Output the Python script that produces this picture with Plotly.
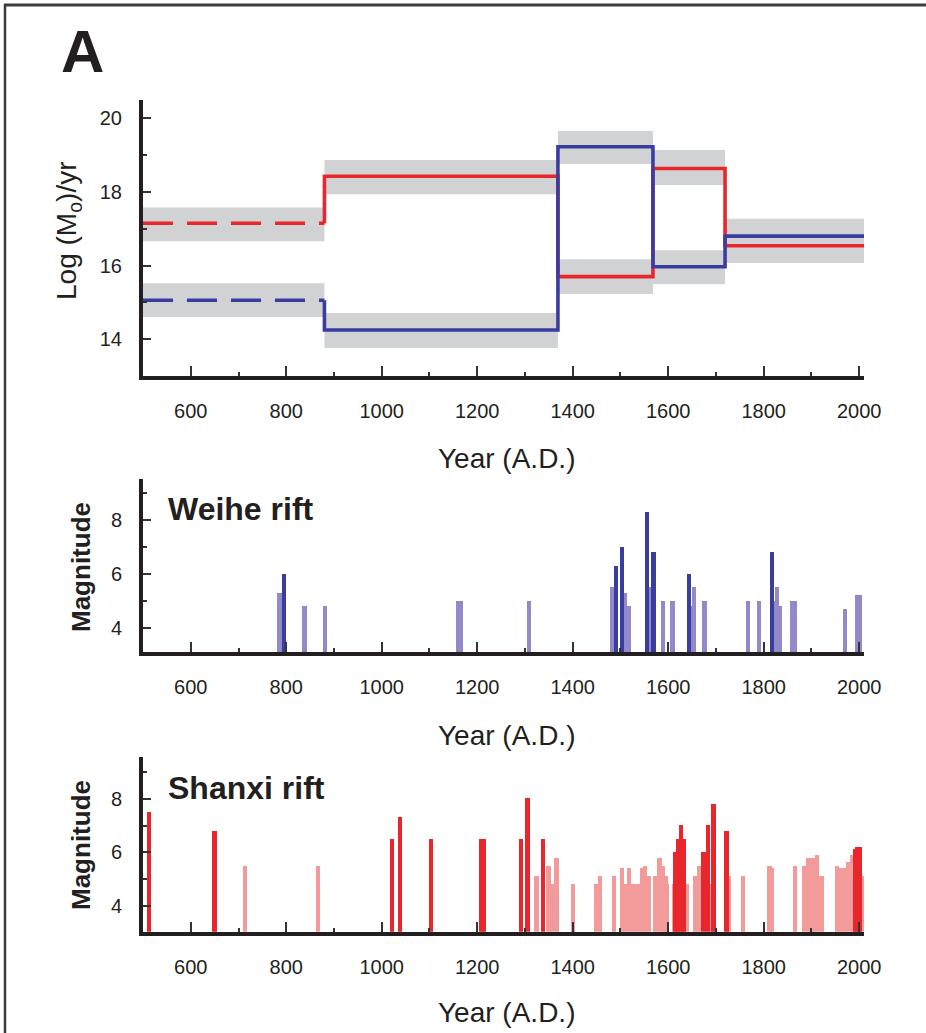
import plotly.graph_objects as go

W, H = 926, 1033

# ---------------- Panel A top: moment release rate (log Mo / yr) ----------------
seg_edges = [500, 880, 1369, 1568, 1719, 2010]
shanxi_rate = [17.15, 18.43, 15.70, 18.64, 16.54]
weihe_rate = [15.06, 14.25, 19.23, 15.97, 16.80]
shanxi_lo = [16.66, 17.94, 15.23, 18.19, 16.07]
shanxi_hi = [17.58, 18.87, 16.17, 19.14, 17.01]
weihe_lo = [14.60, 13.76, 18.76, 15.49, 16.33]
weihe_hi = [15.52, 14.71, 19.66, 16.42, 17.27]

# ---------------- Weihe rift earthquakes ----------------
weihe_major_year = [795, 1490, 1503, 1556, 1569, 1643, 1818]
weihe_major_mag = [6.0, 6.3, 7.0, 8.3, 6.8, 6.0, 6.8]
weihe_minor_year = [786, 838, 881, 1159, 1165, 1308, 1483, 1510, 1517, 1562,
                    1589, 1609, 1647, 1654, 1676, 1767, 1790, 1823, 1828, 1834,
                    1860, 1866, 1970, 1995, 2001]
weihe_minor_mag = [5.3, 4.8, 4.8, 5.0, 5.0, 5.0, 5.5, 5.3, 4.8, 5.5,
                   5.0, 5.0, 4.8, 5.5, 5.0, 5.0, 5.0, 5.0, 5.5, 4.8,
                   5.0, 5.0, 4.7, 5.2, 5.2]

# ---------------- Shanxi rift earthquakes ----------------
shanxi_major_year = [512, 650, 1022, 1038, 1103, 1208, 1214, 1292, 1305, 1338,
                     1615, 1620, 1626, 1632, 1674, 1683, 1695, 1722,
                     1991, 1996, 2001]
shanxi_major_mag = [7.5, 6.8, 6.5, 7.3, 6.5, 6.5, 6.5, 6.5, 8.0, 6.5,
                    6.0, 6.5, 7.0, 6.5, 6.0, 7.0, 7.8, 6.8,
                    6.1, 6.2, 6.2]
shanxi_minor_year = [713, 866, 1324, 1349, 1356, 1366, 1400, 1448, 1457, 1486,
                     1503, 1510, 1518, 1527, 1536, 1545, 1551, 1559, 1572, 1582,
                     1589, 1594, 1598, 1612, 1638, 1656, 1665, 1690, 1727, 1756,
                     1812, 1818, 1866, 1884, 1892, 1900, 1906, 1912, 1921, 1954,
                     1961, 1968, 1976, 1986, 2005]
shanxi_minor_mag = [5.5, 5.5, 5.1, 5.5, 4.8, 5.8, 4.8, 4.8, 5.1, 5.1,
                    5.4, 4.8, 5.4, 4.8, 4.8, 5.4, 5.5, 5.1, 5.1, 5.8,
                    5.5, 5.1, 4.8, 4.8, 4.8, 5.1, 5.5, 4.8, 5.1, 5.1,
                    5.5, 5.4, 5.5, 5.5, 5.8, 5.8, 5.8, 5.9, 5.1, 5.5,
                    5.4, 5.4, 5.65, 5.9, 5.1]

x_ticks = [600, 800, 1000, 1200, 1400, 1600, 1800, 2000]

# ---------------- styles ----------------
RED = "#E8262B"
BLUE = "#3A3DA0"
LIGHT_RED = "#F39B9B"
LIGHT_BLUE = "#9189C8"
GRAY = "#D1D2D4"
INK = "#231F20"
FONT = "Liberation Sans, Arial, Helvetica, sans-serif"
BAR_W = 9


def px_x(p):
    return p / W


def px_y(p):
    return 1 - p / H


fig = go.Figure()

# uncertainty bands
for lo_arr, hi_arr in ((shanxi_lo, shanxi_hi), (weihe_lo, weihe_hi)):
    for i in range(len(lo_arr)):
        x0, x1 = seg_edges[i], seg_edges[i + 1]
        fig.add_trace(go.Scatter(
            x=[x0, x1, x1, x0, x0], y=[lo_arr[i], lo_arr[i], hi_arr[i], hi_arr[i], lo_arr[i]],
            mode="lines", fill="toself", fillcolor=GRAY, line=dict(width=0, color=GRAY),
            hoverinfo="skip", showlegend=False, xaxis="x", yaxis="y"))

# rate lines: dashed first segment, then solid steps
for rate, col in ((shanxi_rate, RED), (weihe_rate, BLUE)):
    fig.add_trace(go.Scatter(
        x=seg_edges[0:2], y=[rate[0], rate[0]], mode="lines",
        line=dict(color=col, width=3.6, dash="30px,14px"),
        showlegend=False, xaxis="x", yaxis="y"))
    fig.add_trace(go.Scatter(
        x=seg_edges[1:], y=rate, mode="lines",
        line=dict(color=col, width=3.6, shape="vh"),
        showlegend=False, xaxis="x", yaxis="y"))

# Weihe bars
fig.add_trace(go.Bar(x=weihe_minor_year, y=weihe_minor_mag, width=BAR_W,
                     marker=dict(color=LIGHT_BLUE, line=dict(width=0)),
                     showlegend=False, xaxis="x2", yaxis="y2"))
fig.add_trace(go.Bar(x=weihe_major_year, y=weihe_major_mag, width=BAR_W,
                     marker=dict(color=BLUE, line=dict(width=0)),
                     showlegend=False, xaxis="x2", yaxis="y2"))
# Shanxi bars
fig.add_trace(go.Bar(x=shanxi_minor_year, y=shanxi_minor_mag, width=BAR_W,
                     marker=dict(color=LIGHT_RED, line=dict(width=0)),
                     showlegend=False, xaxis="x3", yaxis="y3"))
fig.add_trace(go.Bar(x=shanxi_major_year, y=shanxi_major_mag, width=BAR_W,
                     marker=dict(color=RED, line=dict(width=0)),
                     showlegend=False, xaxis="x3", yaxis="y3"))

xdom = [px_x(143), px_x(864)]


def xaxis(anchor):
    return dict(
        domain=xdom, anchor=anchor, range=[500, 2010], automargin=False,
        showline=True, linewidth=4, linecolor=INK, mirror=False,
        showgrid=False, zeroline=False,
        ticks="inside", ticklen=10, tickwidth=1.5, tickcolor="#333",
        tickvals=x_ticks, ticktext=[str(v) for v in x_ticks],
        minor=dict(ticks="inside", ticklen=4, tickwidth=1.5, tickcolor="#333", dtick=100, tick0=0,
                   showgrid=False),
        tickfont=dict(family=FONT, size=20, color=INK),
        ticklabelstandoff=14,
    )


def yaxis(anchor, top_px, bot_px, rng, major):
    return dict(
        domain=[px_y(bot_px), px_y(top_px)], anchor=anchor, range=rng, automargin=False,
        showline=True, linewidth=4, linecolor=INK,
        showgrid=False, zeroline=False,
        ticks="inside", ticklen=8, tickwidth=1.5, tickcolor="#333",
        tickvals=major, ticktext=[str(v) for v in major],
        minor=dict(ticks="inside", ticklen=4, tickwidth=1.5, tickcolor="#333", dtick=1, tick0=0,
                   showgrid=False),
        tickfont=dict(family=FONT, size=20, color=INK),
        ticklabelstandoff=13,
    )


annotations = []
# axis titles
for ycen in (458, 735, 1012):
    annotations.append(dict(text="Year (A.D.)", x=px_x(507), y=px_y(ycen), xref="paper", yref="paper",
                            xanchor="center", yanchor="middle", showarrow=False,
                            font=dict(family=FONT, size=28, color=INK)))
annotations.append(dict(text="Log (M<sub>o</sub>)/yr", x=px_x(68), y=px_y(231), xref="paper", yref="paper",
                        xanchor="center", yanchor="middle", showarrow=False, textangle=-90,
                        font=dict(family=FONT, size=28, color=INK)))
for ycen in (567, 845):
    annotations.append(dict(text="<b>Magnitude</b>", x=px_x(81), y=px_y(ycen), xref="paper", yref="paper",
                            xanchor="center", yanchor="middle", showarrow=False, textangle=-90,
                            font=dict(family=FONT, size=26, color=INK)))
annotations.append(dict(text="<b>Weihe rift</b>", x=px_x(166), y=px_y(509), xref="paper", yref="paper",
                        xanchor="left", yanchor="middle", showarrow=False,
                        font=dict(family=FONT, size=32, color=INK)))
annotations.append(dict(text="<b>Shanxi rift</b>", x=px_x(166), y=px_y(788), xref="paper", yref="paper",
                        xanchor="left", yanchor="middle", showarrow=False,
                        font=dict(family=FONT, size=32, color=INK)))
annotations.append(dict(text="<b>A</b>", x=px_x(59), y=px_y(51), xref="paper", yref="paper",
                        xanchor="left", yanchor="middle", showarrow=False,
                        font=dict(family=FONT, size=60, color=INK)))

shapes = [
    dict(type="line", xref="paper", yref="paper", x0=px_x(4), x1=1, y0=px_y(5), y1=px_y(5),
         line=dict(color="#3C3C3C", width=3)),
    dict(type="line", xref="paper", yref="paper", x0=px_x(5), x1=px_x(5), y0=px_y(4), y1=0,
         line=dict(color="#3C3C3C", width=2.5)),
]

fig.update_layout(
    width=W, height=H, autosize=False,
    margin=dict(l=0, r=0, t=0, b=0, pad=0, autoexpand=False),
    showlegend=False,
    paper_bgcolor="white", plot_bgcolor="white",
    barmode="overlay", bargap=0,
    xaxis=xaxis("y"), xaxis2=xaxis("y2"), xaxis3=xaxis("y3"),
    yaxis=yaxis("x", 100, 376, [13, 20.5], [14, 16, 18, 20]),
    yaxis2=yaxis("x2", 479.3, 652, [3.1, 9.52], [4, 6, 8]),
    yaxis3=yaxis("x3", 757.3, 931.7, [3.05, 9.54], [4, 6, 8]),
    annotations=annotations, shapes=shapes,
    font=dict(family=FONT, color=INK),
)

fig.write_html("out.html", config={"displayModeBar": False})
